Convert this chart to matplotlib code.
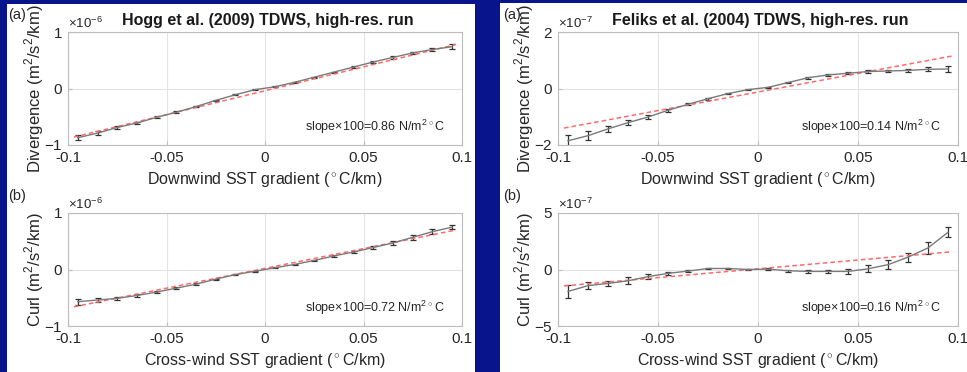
import numpy as np
import matplotlib
matplotlib.use('Agg')
import matplotlib.pyplot as plt
from matplotlib.patches import Rectangle
from matplotlib.ticker import ScalarFormatter

plt.rcParams['font.family'] = ['Liberation Sans', 'DejaVu Sans']
plt.rcParams['axes.unicode_minus'] = False
plt.rcParams['mathtext.fontset'] = 'custom'
plt.rcParams['mathtext.rm'] = 'Liberation Sans'

# bin centres of the SST gradient (deg C / km)
sst_grad = np.array([-0.095, -0.085, -0.075, -0.065, -0.055, -0.045, -0.035, -0.025, -0.015, -0.005,
                     0.005, 0.015, 0.025, 0.035, 0.045, 0.055, 0.065, 0.075, 0.085, 0.095])

# Hogg et al. (2009), units of 1e-6
hogg_div = np.array([-0.87, -0.79, -0.69, -0.61, -0.51, -0.42, -0.32, -0.21, -0.11, -0.02,
                     0.03, 0.11, 0.20, 0.29, 0.38, 0.47, 0.55, 0.63, 0.69, 0.74])
hogg_div_err = np.array([0.05, 0.03, 0.03, 0.02, 0.02, 0.02, 0.01, 0.01, 0.01, 0.01,
                         0.01, 0.01, 0.01, 0.01, 0.01, 0.02, 0.02, 0.02, 0.03, 0.04])
hogg_curl = np.array([-0.57, -0.54, -0.51, -0.46, -0.40, -0.33, -0.26, -0.17, -0.09, -0.03,
                      0.03, 0.09, 0.16, 0.24, 0.31, 0.39, 0.47, 0.57, 0.67, 0.75])
hogg_curl_err = np.array([0.05, 0.03, 0.03, 0.03, 0.02, 0.02, 0.02, 0.01, 0.01, 0.01,
                          0.01, 0.01, 0.01, 0.02, 0.02, 0.03, 0.03, 0.04, 0.04, 0.04])

# Feliks et al. (2004), units of 1e-7
feliks_div = np.array([-1.85, -1.67, -1.43, -1.21, -1.01, -0.77, -0.56, -0.36, -0.18, -0.04,
                       0.04, 0.21, 0.38, 0.48, 0.54, 0.60, 0.62, 0.64, 0.68, 0.69])
feliks_div_err = np.array([0.20, 0.15, 0.10, 0.08, 0.06, 0.05, 0.04, 0.03, 0.03, 0.03,
                           0.03, 0.03, 0.03, 0.03, 0.04, 0.04, 0.05, 0.06, 0.07, 0.10])
feliks_curl = np.array([-1.94, -1.43, -1.23, -1.00, -0.63, -0.34, -0.14, 0.09, 0.09, 0.00,
                        0.03, -0.11, -0.17, -0.17, -0.17, 0.06, 0.43, 1.09, 1.91, 3.29])
feliks_curl_err = np.array([0.60, 0.30, 0.25, 0.30, 0.20, 0.15, 0.10, 0.08, 0.08, 0.08,
                            0.08, 0.08, 0.10, 0.12, 0.20, 0.30, 0.40, 0.40, 0.50, 0.43])

# linear fits: end points (x, y) of the red dashed lines
fit_x = [-0.097, 0.097]
hogg_div_fit = [-0.86, 0.78]
hogg_curl_fit = [-0.66, 0.70]
feliks_div_fit = [-1.40, 1.15]
feliks_curl_fit = [-1.45, 1.57]

slopes = ['0.86', '0.72', '0.14', '0.16']

W, H = 967, 372
fig = plt.figure(figsize=(W / 100, H / 100), dpi=100)
fig.patch.set_facecolor('#08148c')
fig.patches.append(Rectangle((7 / W, 0), 468 / W, 1 - 4 / H, transform=fig.transFigure,
                             facecolor='white', edgecolor='none', zorder=-5))
fig.patches.append(Rectangle((500 / W, 0), 467 / W, 1 - 3 / H, transform=fig.transFigure,
                             facecolor='white', edgecolor='none', zorder=-5))


def make_panel(left, right, bottom, y, yerr, fit, scale, ylim, ylabel, xlabel, slope, ylab_x):
    ax = fig.add_axes([left / W, 1 - bottom / H, (right - left) / W, 113 / H])
    ax.errorbar(sst_grad, y * scale, yerr=yerr * scale, color='#7a7a7a', lw=1.0,
                ecolor='#333333', elinewidth=0.9, capsize=2.2, capthick=0.9)
    ax.plot(fit_x, np.array(fit) * scale, '--', color='#ff6b6b', lw=1.1, dashes=(3, 2))
    ax.set_xlim(-0.1, 0.1)
    ax.set_ylim(ylim[0] * scale, ylim[1] * scale)
    ax.set_xticks([-0.1, -0.05, 0, 0.05, 0.1])
    ax.set_xticklabels(['-0.1', '-0.05', '0', '0.05', '0.1'])
    ax.set_yticks([ylim[0] * scale, 0, ylim[1] * scale])
    fmt = ScalarFormatter(useMathText=True)
    fmt.set_powerlimits((0, 0))
    ax.yaxis.set_major_formatter(fmt)
    ax.yaxis.get_offset_text().set_fontsize(9.5)
    ax.yaxis.get_offset_text().set_color('#777777')
    ax.grid(True, color='#e3e3e3', lw=0.8)
    ax.set_axisbelow(True)
    for s in ax.spines.values():
        s.set_color('#bdbdbd')
    ax.tick_params(direction='in', length=3, color='#bdbdbd', labelsize=11,
                   labelcolor='#262626', pad=4)
    ax.set_ylabel(ylabel, fontsize=12, color='#262626')
    ax.yaxis.set_label_coords(ylab_x, 0.5)
    ax.set_xlabel(xlabel, fontsize=11.5, color='#262626', labelpad=4)
    ax.text(0.957, 0.16, 'slope\u00d7100=' + slope + ' N/m$^2$$^\\circ$C', transform=ax.transAxes,
            ha='right', va='center', fontsize=9, color='#262626')
    return ax


xl_down = 'Downwind SST gradient ($^\\circ$C/km)'
xl_cross = 'Cross-wind SST gradient ($^\\circ$C/km)'

make_panel(68, 462, 145, hogg_div, hogg_div_err, hogg_div_fit, 1e-6, (-1, 1),
           'Divergence (m$^2$/s$^2$/km)', xl_down, slopes[0], -0.056)
make_panel(68, 462, 326, hogg_curl, hogg_curl_err, hogg_curl_fit, 1e-6, (-1, 1),
           'Curl (m$^2$/s$^2$/km)', xl_cross, slopes[1], -0.056)
make_panel(558, 958, 145, feliks_div, feliks_div_err, feliks_div_fit, 1e-7, (-2, 2),
           'Divergence (m$^2$/s$^2$/km)', xl_down, slopes[2], -0.056)
make_panel(558, 958, 326, feliks_curl, feliks_curl_err, feliks_curl_fit, 1e-7, (-5, 5),
           'Curl (m$^2$/s$^2$/km)', xl_cross, slopes[3], -0.056)

fig.text(122 / W, 1 - 20 / H, 'Hogg et al. (2009) TDWS, high-res. run', fontsize=11.5,
         fontweight='bold', va='center', ha='left', color='#1a1a1a')
fig.text(612 / W, 1 - 20 / H, 'Feliks et al. (2004) TDWS, high-res. run', fontsize=11.5,
         fontweight='bold', va='center', ha='left', color='#1a1a1a')
for px in (8, 503):
    fig.text(px / W, 1 - 15 / H, '(a)', fontsize=10.5, va='center', ha='left', color='#262626')
    fig.text(px / W, 1 - 196 / H, '(b)', fontsize=10.5, va='center', ha='left', color='#262626')

fig.savefig('out.png', dpi=100, facecolor=fig.get_facecolor())
